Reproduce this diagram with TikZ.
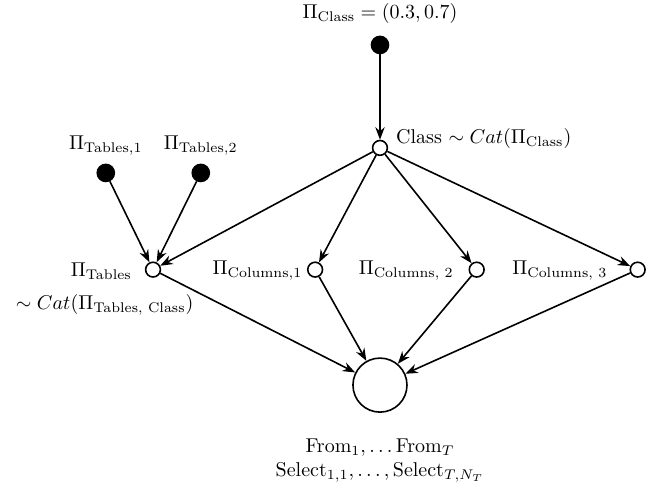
\documentclass[tikz,border=0pt]{standalone}
\usepackage{amsmath,amssymb}
\usetikzlibrary{arrows.meta,positioning}

\begin{document}
\begin{tikzpicture}[
  fixed/.style={circle, draw, fill=black, thick, minimum size=0.3cm, inner sep=0pt},
  rv/.style={circle, draw, thick, fill=white, minimum size=0.26cm, inner sep=0pt},
  big/.style={circle, draw, thick, minimum size=0.95cm, inner sep=0pt},
  arr/.style={-{Stealth[length=2.2mm]}, thick},
]
  \useasboundingbox (0,0) rectangle (11.55,8.68);
  % parameters and variables
  \node[fixed] (pcls) at (6.68,7.89) {};
  \node[rv] (cls) at (6.68,6.08) {};
  \node[fixed] (pt1) at (1.86,5.64) {};
  \node[fixed] (pt2) at (3.53,5.64) {};
  \node[rv] (tab) at (2.69,3.94) {};
  \node[rv] (col1) at (5.54,3.94) {};
  \node[rv] (col2) at (8.38,3.94) {};
  \node[rv] (col3) at (11.21,3.94) {};
  \node[big] (out) at (6.68,1.91) {};
  % labels
  \node (pclsl) at (6.68,8.44) {$\Pi_{\text{Class}}=(0.3,0.7)$};
  \node[anchor=west] (clsl) at (6.84,6.24) {Class $\sim Cat(\Pi_{\text{Class}})$};
  \node (pt1l) at (1.86,6.12) {$\Pi_{\text{Tables},1}$};
  \node (pt2l) at (3.53,6.12) {$\Pi_{\text{Tables},2}$};
  \node[anchor=east] (tabl) at (2.44,3.92) {$\Pi_{\text{Tables}}$};
  \node (tabl2) at (1.84,3.32) {$\sim Cat(\Pi_{\text{Tables, Class}})$};
  \node[anchor=east] (col1l) at (5.44,3.92) {$\Pi_{\text{Columns},1}$};
  \node[anchor=east] (col2l) at (8.10,3.92) {$\Pi_{\text{Columns, }2}$};
  \node[anchor=east] (col3l) at (10.80,3.92) {$\Pi_{\text{Columns, }3}$};
  \node[align=center] (outl) at (6.68,0.58)
    {$\text{From}_1,\ldots\text{From}_T$\\
     $\text{Select}_{1,1},\ldots,\text{Select}_{T,N_T}$};
  % edges
  \draw[arr] (pcls)--(cls);
  \draw[arr] (pt1)--(tab);
  \draw[arr] (pt2)--(tab);
  \draw[arr] (cls)--(tab);
  \draw[arr] (cls)--(col1);
  \draw[arr] (cls)--(col2);
  \draw[arr] (cls)--(col3);
  \draw[arr] (tab)--(out);
  \draw[arr] (col1)--(out);
  \draw[arr] (col2)--(out);
  \draw[arr] (col3)--(out);
\end{tikzpicture}
\end{document}
